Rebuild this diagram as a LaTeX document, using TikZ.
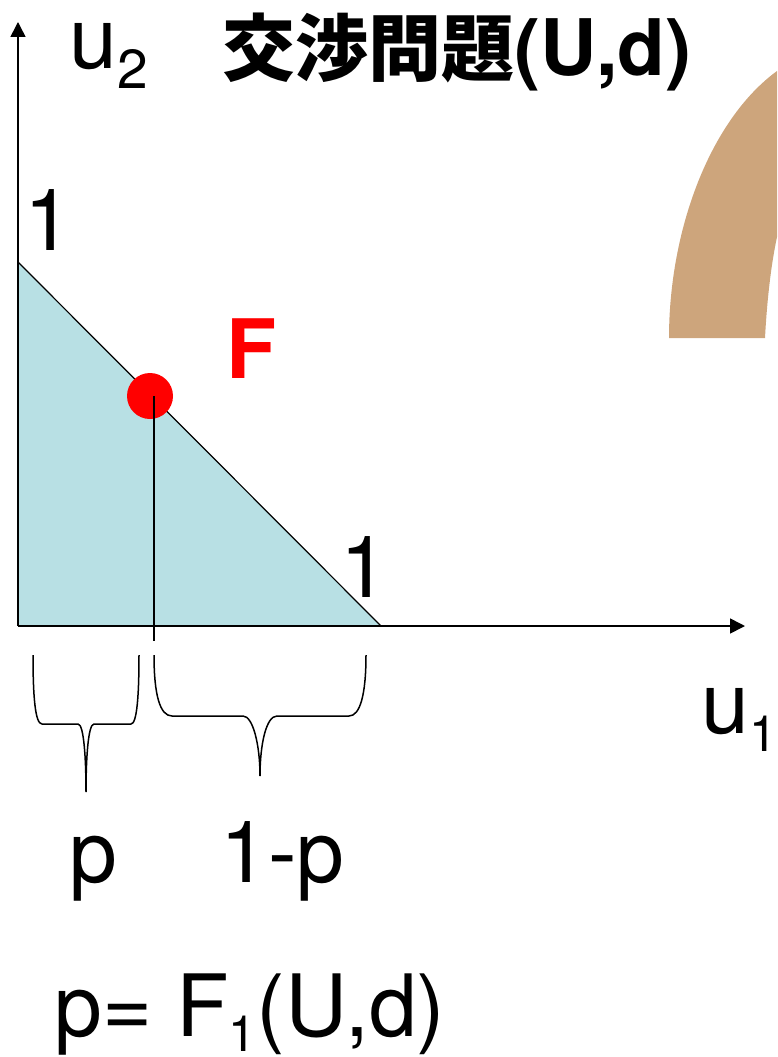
\documentclass[tikz,border=0pt]{standalone}
\usepackage{fontspec}
\setmainfont{TeX Gyre Heros}
\newfontfamily\cjkfont{Noto Sans CJK JP}
\usetikzlibrary{arrows.meta, positioning}
\definecolor{pasture}{RGB}{184,224,228}
\definecolor{horseshoe}{RGB}{205,165,124}
\newcommand{\sz}[1]{\fontsize{#1}{#1}\selectfont}
\newcommand{\subtxt}[1]{\raisebox{-20pt}{\sz{55}#1}}
\newcommand{\subtxtb}[1]{\raisebox{-18pt}{\sz{50}#1}}
\newcommand{\subtxtc}[1]{\raisebox{-15pt}{\sz{50}#1}}
\tikzset{
  etiq/.style={inner sep=0pt, anchor=base west, font=\sz{86}},
  titulo/.style={inner sep=0pt, anchor=base west, font=\sz{78}\bfseries},
  eje/.style={-{Triangle[length=15pt,width=15pt]}, line width=1.6pt, color=black},
  fino/.style={line width=1.2pt, color=black},
  llave/.style={line width=1.5pt, color=black}
}
\begin{document}
\begin{tikzpicture}[x=1pt,y=-1pt]
  \useasboundingbox (0,0) rectangle (777,1057);
  \clip (0,0) rectangle (777,1057);
  % corners of the triangle
  \coordinate (orig) at (18,626);
  \coordinate (top) at (18,262);
  \coordinate (right) at (381,626);
  \coordinate (yend) at (18,22);
  \coordinate (xend) at (745,626);
  \coordinate (foot) at (154,641);
  \fill[pasture] (top) -- (orig) -- (right) -- cycle;
  \fill[horseshoe] (669,338) .. controls (669,230) and (710,120) .. (777,71)
    -- (777,237) .. controls (771,265) and (767,300) .. (765,338) -- cycle;
  \draw[eje] (orig) -- (yend);
  \draw[eje] (orig) -- (xend);
  \draw[fino] (top) -- (right);
  \node[circle, fill=red, minimum size=46pt, inner sep=0pt] (fpt) at (150,396) {};
  \coordinate (ftop) at (154,396);
  \draw[fino] (ftop) -- (foot);
  % labels
  \node[etiq] (u2) at (69,69) {u\subtxt{2}};
  \node[titulo] (title) at (222,75) {{\cjkfont\sz{73}交渉問題}(U,d)};
  \node[etiq] (one2) at (24,250) {1};
  \node[etiq, color=red, font=\sz{82}\bfseries] (flab) at (226,378) {F};
  \node[etiq] (one1) at (340,597) {1};
  \node[etiq] (u1) at (701,733) {u\subtxtb{1}};
  \node[etiq] (plab) at (69,882) {p};
  \node[etiq] (qlab) at (220,882) {1-p};
  \node[etiq] (eqn) at (54,1036) {p= F\subtxtc{1}(U,d)};
  % braces
  \draw[llave] (33,655) .. controls (33,695) and (35,724) .. (42,724) -- (78,724)
    .. controls (84,724) and (86,760) .. (86,792)
    .. controls (86,760) and (88,724) .. (94,724) -- (131,724)
    .. controls (137,724) and (139,695) .. (139,655);
  \draw[llave] (154,655) .. controls (154,695) and (160,716) .. (172,716) -- (243,716)
    .. controls (253,716) and (260,745) .. (260,776)
    .. controls (260,745) and (266,716) .. (277,716) -- (349,716)
    .. controls (360,716) and (366,695) .. (366,655);
\end{tikzpicture}
\end{document}
